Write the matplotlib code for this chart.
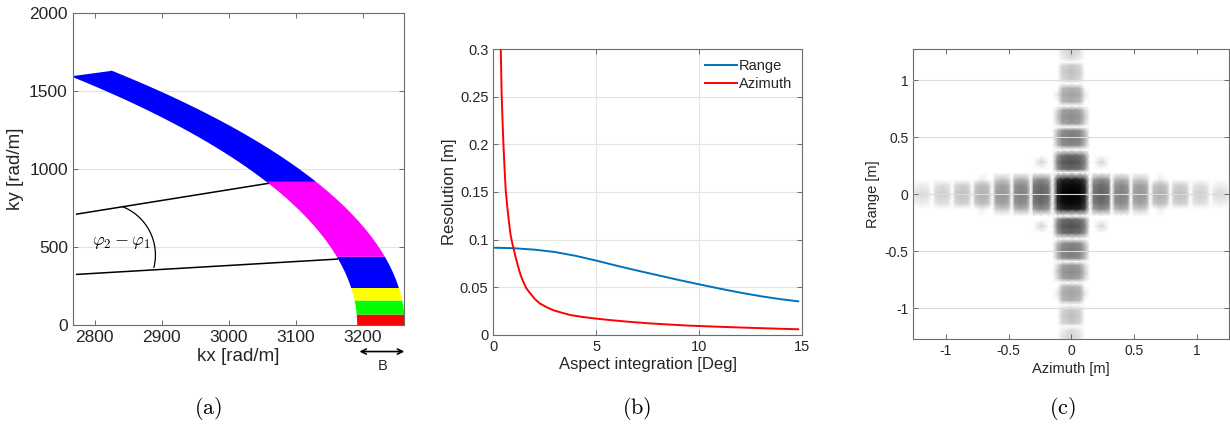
import numpy as np
import matplotlib
matplotlib.use('Agg')
import matplotlib.pyplot as plt
from matplotlib.patches import Arc
from matplotlib.ticker import FuncFormatter

plt.rcParams['font.family'] = ['Liberation Sans', 'DejaVu Sans']
plt.rcParams['mathtext.fontset'] = 'cm'
plt.rcParams['axes.unicode_minus'] = False

# (a) k-space annulus, split into bands of ky
r_inner, r_outer = 3191, 3262          # rad/m
ang_max = 30                           # deg
band_edges = [0, 70, 160, 240, 440, 920, 1632]
band_colors = ['#ff0000', '#00ff00', '#ffff00', '#0000ff', '#ff00ff', '#0000ff']
line1_kx, line1_ky = [2773, 3059], [710, 907]
line2_kx, line2_ky = [2773, 3162], [324, 422]

# (b) resolution vs aspect integration
range_x = [0, 1, 2, 3, 4, 5, 6, 7, 8, 9, 10, 11, 12, 13, 14, 14.8]
range_res = [0.0916, 0.0910, 0.0895, 0.0870, 0.0830, 0.0780, 0.0726, 0.0675,
             0.0626, 0.0577, 0.0531, 0.0486, 0.0444, 0.0406, 0.0374, 0.0353]
az_x = [0.33, 0.36, 0.40, 0.45, 0.49, 0.55, 0.60, 0.67, 0.75, 0.83, 0.92, 0.99,
        1.10, 1.20, 1.32, 1.45, 1.60, 1.78, 2.00, 2.26, 2.60, 2.91, 3.30, 3.73,
        4.30, 4.86, 5.5, 6.5, 7.5, 8.5, 9.5, 10.5, 11.5, 12.5, 13.5, 14.8]
az_res = [0.330, 0.300, 0.255, 0.222, 0.200, 0.172, 0.152, 0.136, 0.120, 0.106,
          0.096, 0.090, 0.080, 0.072, 0.063, 0.056, 0.049, 0.044, 0.038, 0.033,
          0.029, 0.026, 0.0235, 0.021, 0.019, 0.0175, 0.0160, 0.0140, 0.0123,
          0.0110, 0.0098, 0.0090, 0.0082, 0.0075, 0.0068, 0.0060]

# (c) point spread function, lobe darkness read along each axis (half axes)
az_nodes = [0.00, 0.07, 0.11, 0.15, 0.18, 0.24, 0.30, 0.32, 0.35, 0.40, 0.45,
            0.475, 0.50, 0.55, 0.60, 0.63, 0.66, 0.71, 0.76, 0.79, 0.82, 0.87,
            0.92, 0.95, 0.98, 1.03, 1.08, 1.11, 1.14, 1.19, 1.24, 1.27]
az_dark = [1.00, 0.97, 0.85, 0.00, 0.55, 0.62, 0.55, 0.00, 0.45, 0.50, 0.45,
           0.00, 0.38, 0.42, 0.38, 0.00, 0.28, 0.32, 0.28, 0.00, 0.22, 0.25,
           0.22, 0.00, 0.17, 0.20, 0.17, 0.00, 0.13, 0.15, 0.13, 0.00]
rg_nodes = [0.00, 0.08, 0.13, 0.19, 0.22, 0.28, 0.34, 0.39, 0.43, 0.495, 0.56,
            0.59, 0.62, 0.68, 0.74, 0.775, 0.81, 0.87, 0.93, 0.97, 1.01, 1.07,
            1.13, 1.16, 1.19, 1.25, 1.28]
rg_dark = [1.00, 0.97, 0.88, 0.00, 0.60, 0.68, 0.60, 0.00, 0.48, 0.53, 0.48,
           0.00, 0.40, 0.45, 0.40, 0.00, 0.32, 0.37, 0.32, 0.00, 0.22, 0.25,
           0.22, 0.00, 0.15, 0.18, 0.15]
psf_gamma = 0.7   # display curve of the log-scaled image

AX_COL = '#6b6b6b'
TXT_COL = '#262626'
GRID_COL = '#e3e3e3'


def matlab_style(ax, size):
    for s in ax.spines.values():
        s.set_color(AX_COL)
        s.set_linewidth(0.8)
    ax.tick_params(direction='in', top=True, right=True, length=3.5,
                   width=0.7, color=AX_COL, labelcolor=TXT_COL, labelsize=size)


fmt = FuncFormatter(lambda v, p: f'{v:g}')

fig = plt.figure(figsize=(12.3, 4.25), dpi=100)

# ---- (a)
ax1 = fig.add_axes([0.0591, 0.2353, 0.2696, 0.7349])
tan_max = np.tan(np.radians(ang_max))
for lo, hi, col in zip(band_edges[:-1], band_edges[1:], band_colors):
    ky = np.linspace(lo, hi, 200)
    x_in = np.sqrt(np.clip(r_inner**2 - ky**2, 0, None))
    x_in = np.maximum(x_in, ky / tan_max)
    x_out = np.sqrt(np.clip(r_outer**2 - ky**2, 0, None))
    x_in = np.minimum(x_in, x_out)
    ax1.fill_betweenx(ky, x_in, x_out, color=col, lw=0)
ax1.plot(line1_kx, line1_ky, color='k', lw=1.1)
ax1.plot(line2_kx, line2_ky, color='k', lw=1.1)
ax1.add_patch(Arc((2813, 448), 155, 666, theta1=-48, theta2=85, color='k', lw=0.9))
ax1.text(2840, 528, r'$\varphi_2-\varphi_1$', fontsize=13, ha='center', va='center')
ax1.set_xlim(2767, 3262)
ax1.set_ylim(0, 2000)
ax1.set_xticks([2800, 2900, 3000, 3100, 3200])
ax1.set_yticks([0, 500, 1000, 1500, 2000])
ax1.yaxis.grid(True, color=GRID_COL, lw=0.8)
ax1.set_axisbelow(True)
matlab_style(ax1, 12.5)
ax1.set_xlabel('kx [rad/m]', fontsize=13.5, color=TXT_COL, labelpad=2)
ax1.set_ylabel('ky [rad/m]', fontsize=13.5, color=TXT_COL, labelpad=4)
ax1.annotate('', xy=(3262, -0.085), xytext=(3195, -0.085),
             xycoords=('data', 'axes fraction'), annotation_clip=False,
             arrowprops=dict(arrowstyle='<->', lw=1.2, color='k',
                             shrinkA=0, shrinkB=0, mutation_scale=9))
ax1.text(3230, -0.13, 'B', transform=ax1.get_xaxis_transform(),
         ha='center', va='center', fontsize=10.5, color=TXT_COL)

# ---- (b)
ax2 = fig.add_axes([0.4011, 0.2118, 0.2512, 0.6729])
ax2.plot(range_x, range_res, color='#0072bd', lw=1.4, label='Range')
ax2.plot(az_x, az_res, color='#ff0000', lw=1.4, label='Azimuth')
ax2.set_xlim(0, 15)
ax2.set_ylim(0, 0.3)
ax2.set_xticks([0, 5, 10, 15])
ax2.set_yticks([0, 0.05, 0.1, 0.15, 0.2, 0.25, 0.3])
ax2.yaxis.set_major_formatter(fmt)
ax2.grid(True, color=GRID_COL, lw=0.8)
ax2.set_axisbelow(True)
matlab_style(ax2, 10.5)
ax2.set_xlabel('Aspect integration [Deg]', fontsize=12, color=TXT_COL, labelpad=2)
ax2.set_ylabel('Resolution [m]', fontsize=12, color=TXT_COL, labelpad=2)
leg = ax2.legend(loc='upper right', frameon=False, fontsize=10.5,
                 handlelength=2.2, handletextpad=0.1, borderaxespad=0.3,
                 labelspacing=0.25)
for t in leg.get_texts():
    t.set_color(TXT_COL)

# ---- (c)
ax3 = fig.add_axes([0.7425, 0.2024, 0.2569, 0.6816])
az_n = np.array(az_nodes)
rg_n = np.array(rg_nodes)
x_full = np.concatenate([-az_n[::-1], az_n[1:]])
y_full = np.concatenate([-rg_n[::-1], rg_n[1:]])
lvl_x = np.concatenate([az_dark[::-1], az_dark[1:]]) ** (1 / psf_gamma)
lvl_y = np.concatenate([rg_dark[::-1], rg_dark[1:]]) ** (1 / psf_gamma)
psf = np.clip(lvl_x[None, :] + lvl_y[:, None] - 1, 0, 1) ** psf_gamma
X, Y = np.meshgrid(x_full, y_full)
ax3.pcolormesh(X, Y, psf, shading='gouraud', cmap='gray_r', vmin=0, vmax=1,
               zorder=0)
ax3.set_xlim(-1.26, 1.26)
ax3.set_ylim(-1.27, 1.27)
ax3.set_xticks([-1, -0.5, 0, 0.5, 1])
ax3.set_yticks([-1, -0.5, 0, 0.5, 1])
ax3.xaxis.set_major_formatter(fmt)
ax3.yaxis.set_major_formatter(fmt)
ax3.yaxis.grid(True, color='#dcdcdc', lw=0.8, zorder=2)
ax3.set_axisbelow(False)
matlab_style(ax3, 10)
ax3.set_xlabel('Azimuth [m]', fontsize=10.5, color=TXT_COL, labelpad=3)
ax3.set_ylabel('Range [m]', fontsize=10.5, color=TXT_COL, labelpad=3)

# captions
for x, lab in [(0.169, '(a)'), (0.5176, '(b)'), (0.8642, '(c)')]:
    fig.text(x, 0.038, r'$\mathrm{' + lab + '}$', fontsize=16,
             ha='center', va='center')

fig.savefig('out.png', dpi=100)
